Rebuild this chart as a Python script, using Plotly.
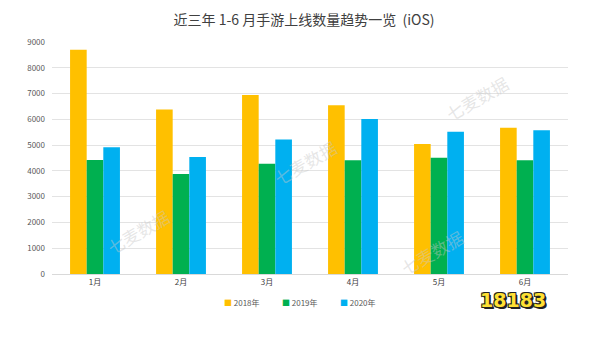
import plotly.graph_objects as go

months = ["1月", "2月", "3月", "4月", "5月", "6月"]
series_names = ["2018年", "2019年", "2020年"]
v2018 = [8700, 6380, 6940, 6550, 5040, 5670]
v2019 = [4420, 3880, 4280, 4410, 4510, 4410]
v2020 = [4920, 4540, 5220, 6010, 5520, 5580]
colors = ["#FFC000", "#00B050", "#00B0F0"]
y_ticks = [0, 1000, 2000, 3000, 4000, 5000, 6000, 7000, 8000, 9000]

FONT = "Microsoft YaHei, Noto Sans CJK SC, sans-serif"

fig = go.Figure()
for name, vals, c in zip(series_names, [v2018, v2019, v2020], colors):
    fig.add_trace(go.Bar(x=months, y=vals, name=name, showlegend=False,
                         marker=dict(color=c, line=dict(width=0))))

fig.update_layout(
    width=597, height=337,
    margin=dict(l=52, r=29, t=42, b=63),
    paper_bgcolor="white", plot_bgcolor="white",
    barmode="group", bargap=0.42, bargroupgap=0,
    font=dict(family=FONT, color="#595959", size=8),
    title=dict(text="近三年 1-6 月手游上线数量趋势一览  (iOS)", x=304 / 597, xanchor="center",
               y=0.94, yanchor="middle", font=dict(size=14, color="#404040", family=FONT)),
    showlegend=False,
    xaxis=dict(showgrid=False, showline=True, linecolor="#d9d9d9", linewidth=1,
               ticks="", tickfont=dict(size=8, color="#404040")),
    yaxis=dict(range=[0, 9000], tickvals=y_ticks, showgrid=True, gridcolor="#e3e3e3",
               gridwidth=1, zeroline=False, showline=False, ticks="",
               tickfont=dict(size=8, color="#595959"), ticklabelstandoff=6),
)

# legend drawn as annotations (small squares + labels)
legend_x = [222, 280, 338]
for lx, name, c in zip(legend_x, series_names, colors):
    fig.add_annotation(text=f"<span style='color:{c}'>■</span> {name}", xref="paper", yref="paper",
                       x=(lx - 52) / 516, y=(274 - 302) / 232, xanchor="left", yanchor="middle",
                       showarrow=False, font=dict(size=8, color="#595959", family=FONT))

wm = [(100, 262), (305, 162), (470, 283), (515, 68)]
for (px, py) in wm:
    fig.add_annotation(text="七麦数据", xref="paper", yref="paper",
                       x=(px - 52) / 516, y=(274 - py) / 232, showarrow=False,
                       textangle=-30, font=dict(size=17, color="rgba(200,200,200,0.45)", family=FONT))

fig.add_annotation(text="<b>18183</b>", xref="paper", yref="paper",
                   x=(548 - 52) / 516, y=(274 - 313) / 232, showarrow=False,
                   font=dict(size=19, color="#FFE033", family="DejaVu Sans",
                             shadow="1px 1px 0 #222, -1px -1px 0 #222, 1px -1px 0 #222, -1px 1px 0 #222, 2px 2px 0 #222"))

fig.write_html("out.html")
